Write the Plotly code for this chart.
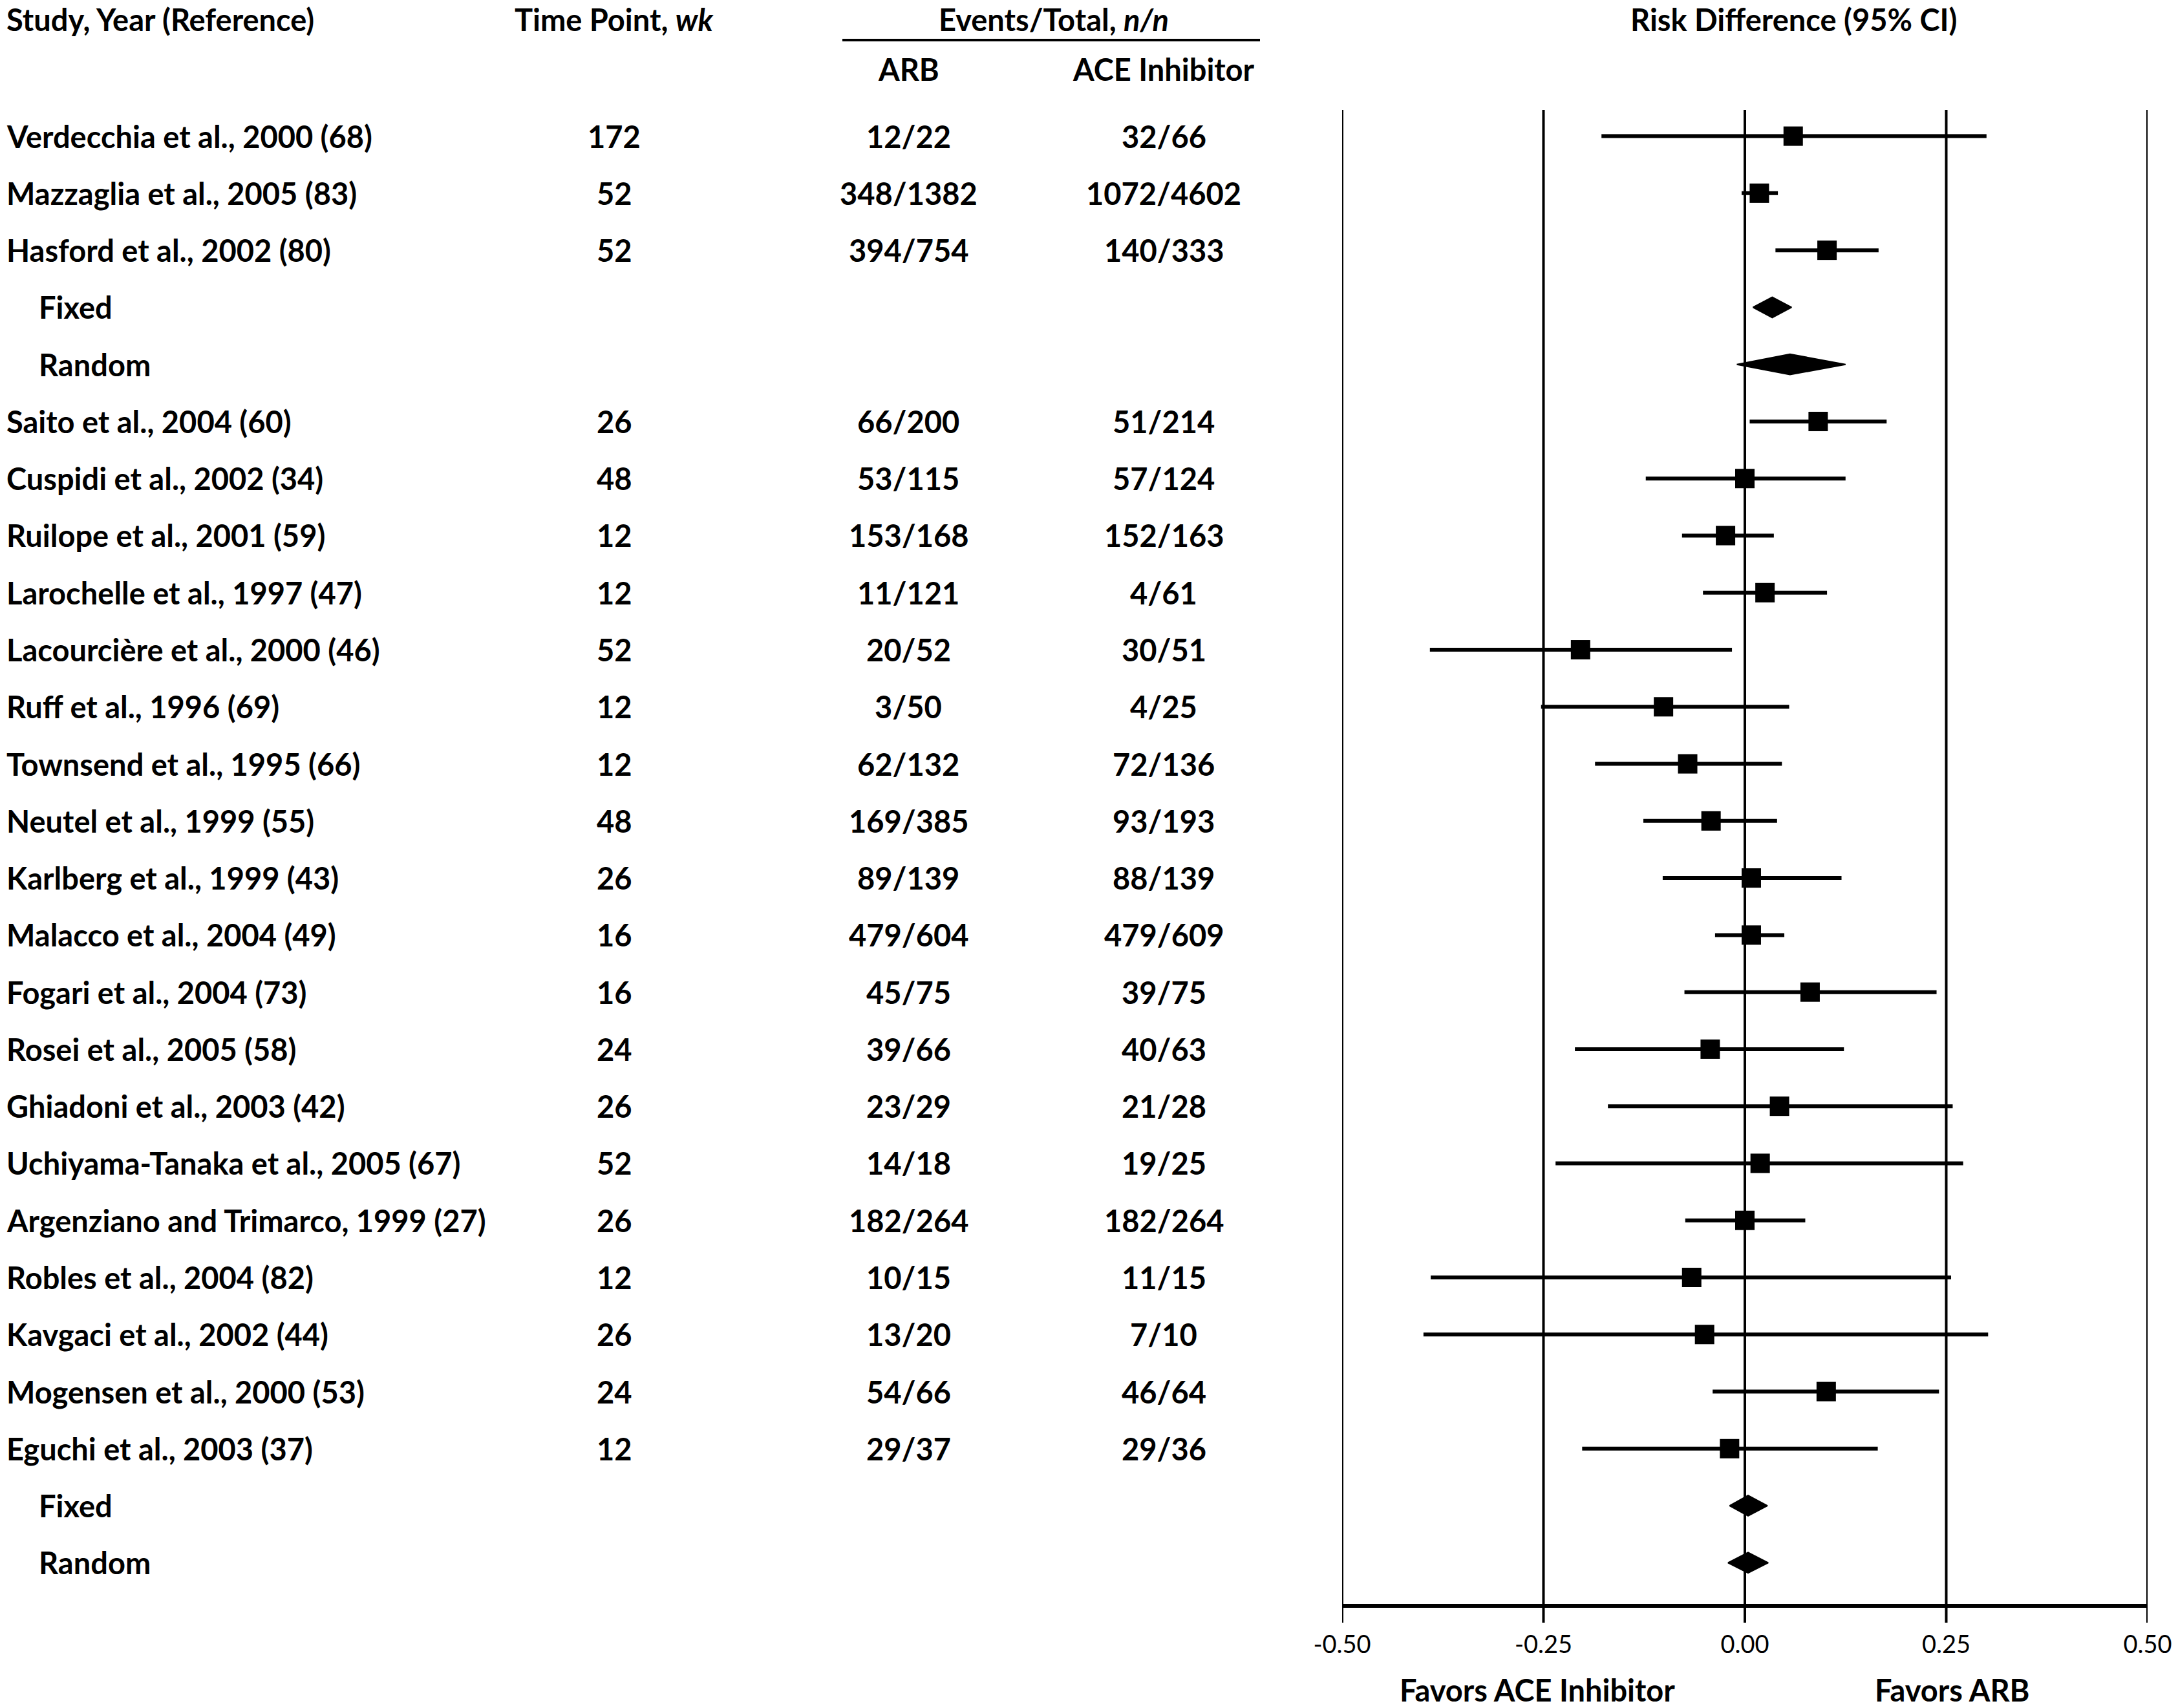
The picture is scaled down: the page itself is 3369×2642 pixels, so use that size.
import plotly.graph_objects as go

# ---------------- data ----------------
studies = ["Verdecchia et al., 2000 (68)", "Mazzaglia et al., 2005 (83)", "Hasford et al., 2002 (80)",
           "Fixed", "Random",
           "Saito et al., 2004 (60)", "Cuspidi et al., 2002 (34)", "Ruilope et al., 2001 (59)",
           "Larochelle et al., 1997 (47)", "Lacourcière et al., 2000 (46)", "Ruff et al., 1996 (69)",
           "Townsend et al., 1995 (66)", "Neutel et al., 1999 (55)", "Karlberg et al., 1999 (43)",
           "Malacco et al., 2004 (49)", "Fogari et al., 2004 (73)", "Rosei et al., 2005 (58)",
           "Ghiadoni et al., 2003 (42)", "Uchiyama-Tanaka et al., 2005 (67)",
           "Argenziano and Trimarco, 1999 (27)", "Robles et al., 2004 (82)", "Kavgaci et al., 2002 (44)",
           "Mogensen et al., 2000 (53)", "Eguchi et al., 2003 (37)",
           "Fixed", "Random"]
time_points = ["172", "52", "52", "", "", "26", "48", "12", "12", "52", "12", "12", "48", "26", "16",
               "16", "24", "26", "52", "26", "12", "26", "24", "12", "", ""]
arb_events = ["12/22", "348/1382", "394/754", "", "", "66/200", "53/115", "153/168", "11/121", "20/52",
              "3/50", "62/132", "169/385", "89/139", "479/604", "45/75", "39/66", "23/29", "14/18",
              "182/264", "10/15", "13/20", "54/66", "29/37", "", ""]
ace_events = ["32/66", "1072/4602", "140/333", "", "", "51/214", "57/124", "152/163", "4/61", "30/51",
              "4/25", "72/136", "93/193", "88/139", "479/609", "39/75", "40/63", "21/28", "19/25",
              "182/264", "11/15", "7/10", "46/64", "29/36", "", ""]
summary_labels = {"Fixed", "Random"}

study_rows = [0, 1, 2, 5, 6, 7, 8, 9, 10, 11, 12, 13, 14, 15, 16, 17, 18, 19, 20, 21, 22, 23]
study_est = [0.060, 0.018, 0.102, 0.091, 0.000, -0.024, 0.025, -0.204, -0.101, -0.071, -0.042,
             0.008, 0.008, 0.081, -0.043, 0.043, 0.019, 0.000, -0.066, -0.050, 0.101, -0.019]
study_lo = [-0.178, -0.004, 0.038, 0.006, -0.123, -0.078, -0.052, -0.391, -0.253, -0.186, -0.126,
            -0.102, -0.037, -0.075, -0.211, -0.170, -0.235, -0.074, -0.390, -0.399, -0.040, -0.202]
study_hi = [0.300, 0.041, 0.166, 0.176, 0.125, 0.036, 0.102, -0.016, 0.055, 0.046, 0.040,
            0.120, 0.049, 0.238, 0.123, 0.258, 0.271, 0.075, 0.256, 0.302, 0.241, 0.165]

summary_rows = [3, 4, 24, 25]
summary_est = [0.034, 0.056, 0.004, 0.004]
summary_lo = [0.010, -0.010, -0.019, -0.021]
summary_hi = [0.058, 0.125, 0.028, 0.029]

tick_vals = [-0.50, -0.25, 0.00, 0.25, 0.50]
tick_labels = ["-0.50", "-0.25", "0.00", "0.25", "0.50"]

# ---------------- figure ----------------
W, H = 3369, 2642
FONT = "Lato"
BLACK = "#000000"

fig = go.Figure()

# confidence intervals + squares
fig.add_trace(go.Scatter(
    x=study_est, y=study_rows, mode="markers",
    marker=dict(symbol="square", size=30, color=BLACK),
    error_x=dict(type="data", symmetric=False,
                 array=[h - e for h, e in zip(study_hi, study_est)],
                 arrayminus=[e - l for e, l in zip(study_est, study_lo)],
                 thickness=6, width=0, color=BLACK),
    showlegend=False, hoverinfo="skip"))

# summary diamonds
half_h = 0.18
for r, e, l, h in zip(summary_rows, summary_est, summary_lo, summary_hi):
    fig.add_trace(go.Scatter(
        x=[l, e, h, e, l], y=[r, r - half_h, r, r + half_h, r],
        mode="lines", fill="toself", fillcolor=BLACK,
        line=dict(color=BLACK, width=2), showlegend=False, hoverinfo="skip"))

ann = []
row_font = dict(family=FONT, size=47, color=BLACK, weight=700)
x_study, x_indent, x_time, x_arb, x_ace = 8 / W, 58 / W, 950 / W, 1405 / W, 1800 / W
for i, name in enumerate(studies):
    indent = name in summary_labels
    ann.append(dict(x=x_indent if indent else x_study, y=i, xref="paper", yref="y",
                    text=name, showarrow=False, xanchor="left", yanchor="middle", font=row_font))
    if time_points[i]:
        ann.append(dict(x=x_time, y=i, xref="paper", yref="y", text=time_points[i],
                        showarrow=False, xanchor="center", yanchor="middle", font=row_font))
    if arb_events[i]:
        ann.append(dict(x=x_arb, y=i, xref="paper", yref="y", text=arb_events[i],
                        showarrow=False, xanchor="center", yanchor="middle", font=row_font))
    if ace_events[i]:
        ann.append(dict(x=x_ace, y=i, xref="paper", yref="y", text=ace_events[i],
                        showarrow=False, xanchor="center", yanchor="middle", font=row_font))

def py(pix):
    return 1 - pix / H

hdr_y = py(30)
ann += [
    dict(x=x_study, y=hdr_y, xref="paper", yref="paper", text="Study, Year (Reference)",
         showarrow=False, xanchor="left", yanchor="middle", font=row_font),
    dict(x=x_time, y=hdr_y, xref="paper", yref="paper", text="Time Point, <i>wk</i>",
         showarrow=False, xanchor="center", yanchor="middle", font=row_font),
    dict(x=1630 / W, y=hdr_y, xref="paper", yref="paper", text="Events/Total, <i>n/n</i>",
         showarrow=False, xanchor="center", yanchor="middle", font=row_font),
    dict(x=2774 / W, y=hdr_y, xref="paper", yref="paper", text="Risk Difference (95% CI)",
         showarrow=False, xanchor="center", yanchor="middle", font=row_font),
    dict(x=x_arb, y=py(107), xref="paper", yref="paper", text="ARB",
         showarrow=False, xanchor="center", yanchor="middle", font=row_font),
    dict(x=x_ace, y=py(107), xref="paper", yref="paper", text="ACE Inhibitor",
         showarrow=False, xanchor="center", yanchor="middle", font=row_font),
    dict(x=-0.258, y=py(2614), xref="x", yref="paper", text="Favors ACE Inhibitor",
         showarrow=False, xanchor="center", yanchor="middle", font=row_font),
    dict(x=0.258, y=py(2614), xref="x", yref="paper", text="Favors ARB",
         showarrow=False, xanchor="center", yanchor="middle", font=row_font),
]

plot_top, plot_bot, tick_bot = 170, 2481, 2510
shapes = [dict(type="line", xref="paper", yref="paper", x0=1303 / W, x1=1949 / W,
               y0=py(62), y1=py(62), line=dict(color=BLACK, width=4))]
# vertical reference lines continuing below the axis as tick marks
for v in tick_vals:
    shapes.append(dict(type="line", xref="x", yref="paper", x0=v, x1=v,
                       y0=py(tick_bot), y1=py(plot_top), line=dict(color=BLACK, width=4),
                       layer="below"))

row_top_pix, row_step_pix = 210.6, 88.27
y_top = (plot_top - row_top_pix) / row_step_pix
y_bot = (plot_bot - row_top_pix) / row_step_pix

fig.update_layout(
    autosize=True,
    margin=dict(l=0, r=0, t=0, b=0, autoexpand=False),
    paper_bgcolor="white", plot_bgcolor="white",
    font=dict(family=FONT, color=BLACK),
    annotations=ann, shapes=shapes,
    xaxis=dict(domain=[2076 / W, 3322 / W], range=[-0.5, 0.5],
               tickmode="array", tickvals=tick_vals, ticktext=tick_labels,
               showgrid=False, zeroline=False, showline=True, linecolor=BLACK, linewidth=6,
               ticks="", ticklabelstandoff=24,
               tickfont=dict(family=FONT, size=38, color=BLACK)),
    yaxis=dict(domain=[py(plot_bot), py(plot_top)], range=[y_bot, y_top],
               showgrid=False, zeroline=False, showline=False, showticklabels=False, ticks=""),
)

fig.write_html(
    "out.html",
    default_width="100vw", default_height="100vh",
    config={"displayModeBar": False, "responsive": True},
    post_script=("document.documentElement.style.margin='0px';"
                 "document.body.style.margin='0px';document.body.style.overflow='hidden';"
                 "Plotly.Plots.resize(document.getElementById('{plot_id}'));"),
)
